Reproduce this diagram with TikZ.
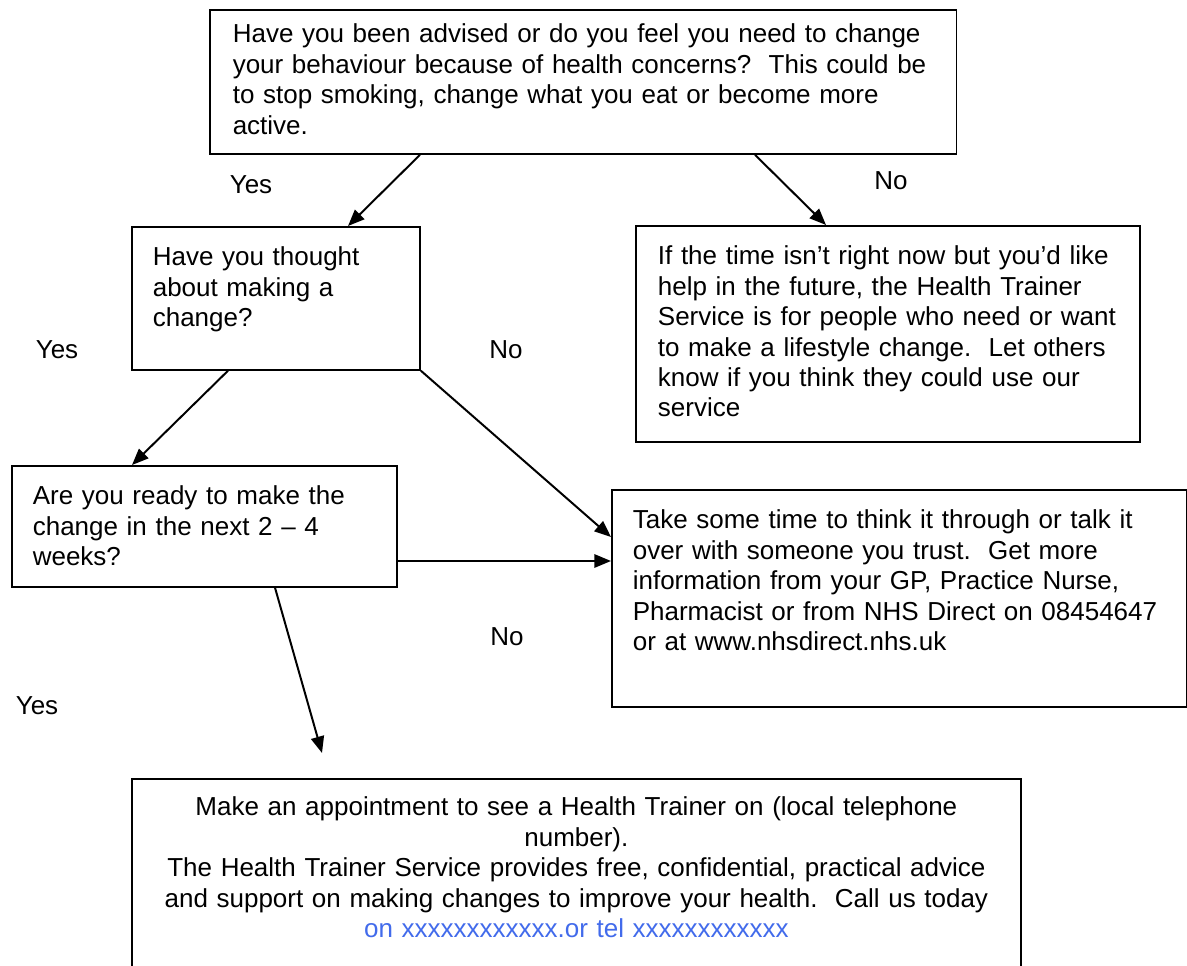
\documentclass[tikz,border=0pt]{standalone}
\usepackage{fontspec}
\setmainfont{Liberation Sans}
\usepackage{xcolor}
\usepackage{tikz}
\usetikzlibrary{arrows.meta, calc}
\definecolor{telblue}{RGB}{66,107,235}
\frenchspacing

\begin{document}
\begin{tikzpicture}[
    x=0.454pt, y=-0.454pt,
    font=\fontsize{11.8pt}{13.8pt}\selectfont,
    qbox/.style={draw, line width=0.8pt, anchor=north west, inner xsep=9.5pt, inner ysep=0pt, align=left, text height=17.7pt},
    arrow/.style={-{Triangle[length=7.5pt, width=6pt]}, line width=0.9pt},
    answer/.style={inner sep=0pt}
]
    \clip (0,0) rectangle (1187,966);

    \node[qbox, text width=318.2pt, inner xsep=10.4pt, text height=15pt, text depth=50.4pt] (ask) at (209,9)
        {Have you been advised or do you feel you need to change\\
         your behaviour because of health concerns?\ \ This could be\\
         to stop smoking, change what you eat or become more\\
         active.};
    \node[qbox, text width=111.8pt, text depth=47.2pt] (think) at (131,226)
        {Have you thought\\ about making a\\ change?};
    \node[qbox, text width=208.8pt, inner xsep=10pt, text depth=80.4pt] (later) at (635,225)
        {If the time isn’t right now but you’d like\\
         help in the future, the Health Trainer\\
         Service is for people who need or want\\
         to make a lifestyle change.\ \ Let others\\
         know if you think they could use our\\
         service};
    \node[qbox, text width=155.8pt, text depth=37.2pt] (ready) at (11,465)
        {Are you ready to make the\\ change in the next 2 – 4\\ weeks?};
    \node[qbox, text width=242pt, text depth=80.8pt] (talk) at (611,489)
        {Take some time to think it through or talk it\\
         over with someone you trust.\ \ Get more\\
         information from your GP, Practice Nurse,\\
         Pharmacist or from NHS Direct on 08454647\\
         or at www.nhsdirect.nhs.uk};
    \node[qbox, text width=383.6pt, inner xsep=10pt, align=center, text height=16.8pt, text depth=79.5pt] (appt) at (131,778)
        {Make an appointment to see a Health Trainer on (local telephone\\
         number).\\
         The Health Trainer Service provides free, confidential, practical advice\\
         and support on making changes to improve your health.\ \ Call us today\\
         {\color{telblue}on xxxxxxxxxxxx.or tel xxxxxxxxxxxx}};

    \node[answer] (yes1) at (251,185) {Yes};
    \node[answer] (no1) at (891,181) {No};
    \node[answer] (yes2) at (57,350) {Yes};
    \node[answer] (no2) at (506,350) {No};
    \node[answer] (no3) at (507,637) {No};
    \node[answer] (yes3) at (37,706) {Yes};
    \coordinate (apptin) at (322,753);

    \draw[arrow] ($(ask.south west)+(211,0)$) -- ($(think.north west)+(217,0)$);
    \draw[arrow] ($(ask.south west)+(546,0)$) -- ($(later.north west)+(191,0)$);
    \draw[arrow] ($(think.south west)+(97,0)$) -- ($(ready.north west)+(121,0)$);
    \draw[arrow] (think.south east) -- ($(talk.north west)+(0,48)$);
    \draw[arrow] ($(ready.north east)+(0,96)$) -- ($(talk.north west)+(0,72)$);
    \draw[arrow] ($(ready.south west)+(264,0)$) -- (apptin);
\end{tikzpicture}
\end{document}
